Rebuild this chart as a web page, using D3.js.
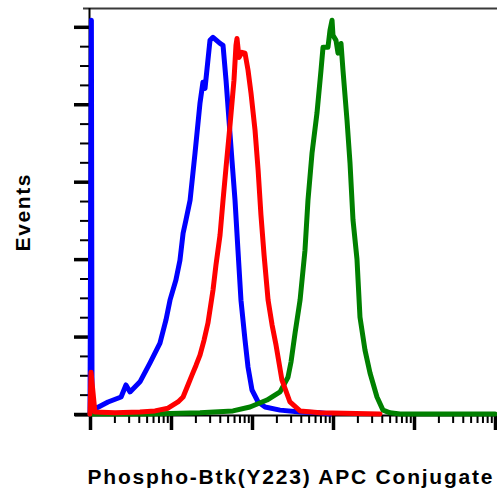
<!DOCTYPE html>
<html>
<head>
<meta charset="utf-8">
<script src="https://cdn.jsdelivr.net/npm/d3@7"></script>
<style>
  body { margin: 0; background: #fff; }
  svg { display: block; }
</style>
</head>
<body>
<svg width="497" height="488"></svg>
<script>
// histogram values (intensity, events)
const blueIntensity = [1, 1.04, 1.06, 1.19, 1.67, 2.42, 2.78, 3.12, 4.14, 5.51, 7.31, 8.67, 9.72, 11.5, 12.9, 14.1, 15.3, 17.2, 19.8, 22.8, 24.8, 26.3, 30.3, 33.0, 40.3, 43.9, 47.8, 52.0, 56.6, 61.7, 67.1, 73.1, 82.0, 89.3, 100, 119, 145, 222, 392, 692, 918];
const blueEvents = [0, 101.7, 2.5, 1.5, 3.1, 4.4, 7.5, 5.7, 8.3, 13.2, 18.3, 24.3, 29.4, 34.6, 39.7, 46.7, 50.1, 55.2, 67.4, 80.3, 85.7, 84.1, 96.5, 97.3, 95.7, 95.2, 86.2, 75.9, 65.5, 55.2, 42.3, 29.4, 19.1, 12.1, 6.2, 3.1, 1.8, 1.0, 0.5, 0.3, 0];

const redIntensity = [1, 1.03, 1.15, 2.04, 4.14, 6.34, 9.18, 12.2, 14.1, 16.2, 18.2, 20.4, 22.8, 25.6, 28.6, 33.0, 35.9, 40.3, 43.9, 47.8, 53.5, 59.9, 63.4, 65.3, 69.1, 75.3, 82.0, 89.3, 97.3, 109, 119, 129, 141, 158, 177, 198, 234, 294, 392, 692, 3800];
const redEvents = [0, 10.8, 0.5, 0.3, 0.5, 0.8, 1.5, 3.1, 4.4, 7.5, 10.1, 12.6, 15.2, 19.1, 23.5, 32.0, 38.5, 46.2, 55.2, 63.7, 74.6, 86.2, 95.2, 97.0, 92.1, 93.4, 93.2, 88.8, 82.8, 73.3, 63.0, 51.4, 41.0, 29.4, 23.0, 17.8, 8.8, 3.1, 0.8, 0.3, 0];

const greenIntensity = [1, 5.51, 22.8, 58.2, 94.4, 153, 222, 278, 303, 340, 392, 451, 491, 551, 634, 711, 753, 867, 918, 973, 1000, 1089, 1153, 1256, 1328, 1489, 1622, 1766, 1977, 2153, 2483, 2864, 3491, 4141, 5057, 6714, 100000];
const greenEvents = [0, 0, 0.3, 0.8, 1.8, 3.6, 5.7, 9.5, 13.4, 20.9, 29.4, 42.3, 55.2, 67.4, 77.7, 88.8, 94.7, 94.7, 99.1, 101.7, 97.8, 96.5, 93.2, 95.7, 88.8, 75.9, 64.8, 50.1, 40, 25.0, 16.5, 10.6, 4.4, 1.0, 0.3, 0, 0];

const xMajorTicks = [1, 10, 100, 1000, 10000, 100000];
const yMajorTicks = [0, 20, 40, 60, 80, 100];
const xLabel = 'Phospho-Btk(Y223) APC Conjugate';
const yLabel = 'Events';

const svg = d3.select('svg');
const xScale = d3.scaleLog().domain([1, 100000]).range([90, 495]);
const yScale = d3.scaleLinear().domain([0, 104.6]).range([414, 9]);

const xMinorTicks = d3.range(0, 5).flatMap(d => d3.range(2, 10).map(m => m * Math.pow(10, d)));
const yMinorTicks = d3.range(0, 105, 5).filter(v => v % 20 !== 0);

// frame
svg.append('line').attr('x1', 83).attr('x2', 497).attr('y1', 8.5).attr('y2', 8.5)
   .attr('stroke', '#3a3a3a').attr('stroke-width', 2);
svg.append('line').attr('x1', 89.5).attr('x2', 89.5).attr('y1', 8).attr('y2', 416)
   .attr('stroke', '#000').attr('stroke-width', 2);
svg.append('line').attr('x1', 75).attr('x2', 497).attr('y1', 415.5).attr('y2', 415.5)
   .attr('stroke', '#000').attr('stroke-width', 2);

// ticks
const styleTicks = (g, w) => {
   g.select('.domain').remove();
   g.selectAll('.tick line').attr('stroke', '#000').attr('stroke-width', w);
};
svg.append('g').attr('transform', 'translate(90,0)')
   .call(d3.axisLeft(yScale).tickValues(yMajorTicks).tickSize(16).tickFormat(''))
   .call(styleTicks, 3.5);
svg.append('g').attr('transform', 'translate(90,0)')
   .call(d3.axisLeft(yScale).tickValues(yMinorTicks).tickSize(10).tickFormat(''))
   .call(styleTicks, 2);
svg.append('g').attr('transform', 'translate(0,415)')
   .call(d3.axisBottom(xScale).tickValues(xMajorTicks).tickSize(15).tickFormat(''))
   .call(styleTicks, 3.5);
svg.append('g').attr('transform', 'translate(0,415)')
   .call(d3.axisBottom(xScale).tickValues(xMinorTicks).tickSize(8).tickFormat(''))
   .call(styleTicks, 2);

// histograms
const lineGen = d3.line().x(d => xScale(d[0])).y(d => yScale(d[1]));
const series = [
   {colour: '#0000ff', pts: d3.zip(blueIntensity, blueEvents)},
   {colour: '#008000', pts: d3.zip(greenIntensity, greenEvents)},
   {colour: '#ff0000', pts: d3.zip(redIntensity, redEvents)}
];
svg.selectAll('.hist').data(series).enter().append('path')
   .attr('class', 'hist')
   .attr('d', d => lineGen(d.pts))
   .attr('fill', 'none')
   .attr('stroke', d => d.colour)
   .attr('stroke-width', 5)
   .attr('stroke-linejoin', 'round')
   .attr('stroke-linecap', 'round');

// labels
svg.append('text')
   .attr('transform', 'translate(30,213) rotate(-90)')
   .attr('text-anchor', 'middle')
   .attr('font-family', 'Arial, "Liberation Sans", sans-serif')
   .attr('font-weight', 'bold').attr('font-size', 21)
   .attr('textLength', 77).attr('lengthAdjust', 'spacing')
   .text(yLabel);
svg.append('text')
   .attr('x', 290).attr('y', 484)
   .attr('text-anchor', 'middle')
   .attr('font-family', 'Arial, "Liberation Sans", sans-serif')
   .attr('font-weight', 'bold').attr('font-size', 21)
   .attr('textLength', 405).attr('lengthAdjust', 'spacing')
   .text(xLabel);
</script>
</body>
</html>
